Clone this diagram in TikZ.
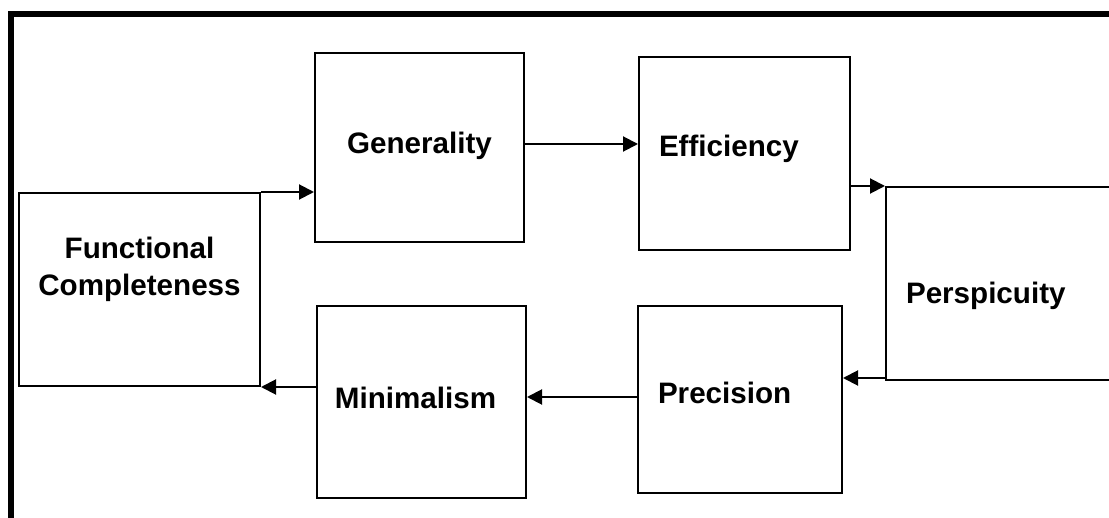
\documentclass[tikz,border=0pt]{standalone}
\usepackage{fontspec}
\setmainfont{Liberation Sans}
\usetikzlibrary{arrows.meta}

\tikzset{
  box/.style={draw, line width=1pt, rectangle, anchor=north west, inner sep=0pt,
    font=\fontsize{14.8}{18.5}\selectfont\bfseries},
  leftbox/.style={box, align=left, inner xsep=10pt, text width=#1},
  arr/.style={line width=1pt, -{Triangle[length=7.5pt,width=7.5pt]}}
}
% move a label up or down without changing its box
\newcommand{\lift}[2]{\raisebox{#1}[\height][\depth]{#2}}

\begin{document}
\begin{tikzpicture}[x=0.5pt,y=-0.5pt]
  \useasboundingbox (0,0) rectangle (1109,518);
  \clip (0,0) rectangle (1109,518);
  % outer frame
  \draw[line width=3pt] (11,540) -- (11,14) -- (1130,14);

  \node[box, minimum width=120.5pt, minimum height=96.5pt, align=center] (fc) at (18,192)
    {\lift{10pt}{\begin{tabular}{@{}c@{}}Functional\\Completeness\end{tabular}}};
  \node[box, minimum width=104.5pt, minimum height=94.5pt] (gen) at (314,52)
    {\lift{1pt}{Generality}};
  \node[leftbox=85.5pt, minimum height=96.5pt] (eff) at (638,56)
    {\lift{2.5pt}{Efficiency}};
  \node[leftbox=107.5pt, minimum height=96.5pt] (persp) at (885,186)
    {\lift{-6pt}{Perspicuity}};
  \node[leftbox=82pt, minimum height=93.5pt] (prec) at (637,305)
    {\lift{3.5pt}{Precision}};
  \node[box, minimum width=104.5pt, minimum height=96pt] (mini) at (316,305)
    {\kern-6pt\lift{2pt}{Minimalism}};

  % connectors
  \draw[arr] (fc.north east) -- (fc.north east -| gen.west);
  \draw[arr] ([yshift=1.75pt]gen.east) -- ([yshift=1.75pt]gen.east -| eff.west);
  \draw[arr] (eff.east |- persp.north west) -- (persp.north west);
  \draw[arr] ([yshift=1.5pt]persp.south west) -- ([yshift=1.5pt]persp.south west -| prec.east);
  \draw[arr] ([yshift=1.25pt]prec.west) -- ([yshift=1.25pt]prec.west -| mini.east);
  \draw[arr] (mini.west |- fc.south east) -- (fc.south east);
\end{tikzpicture}
\end{document}
